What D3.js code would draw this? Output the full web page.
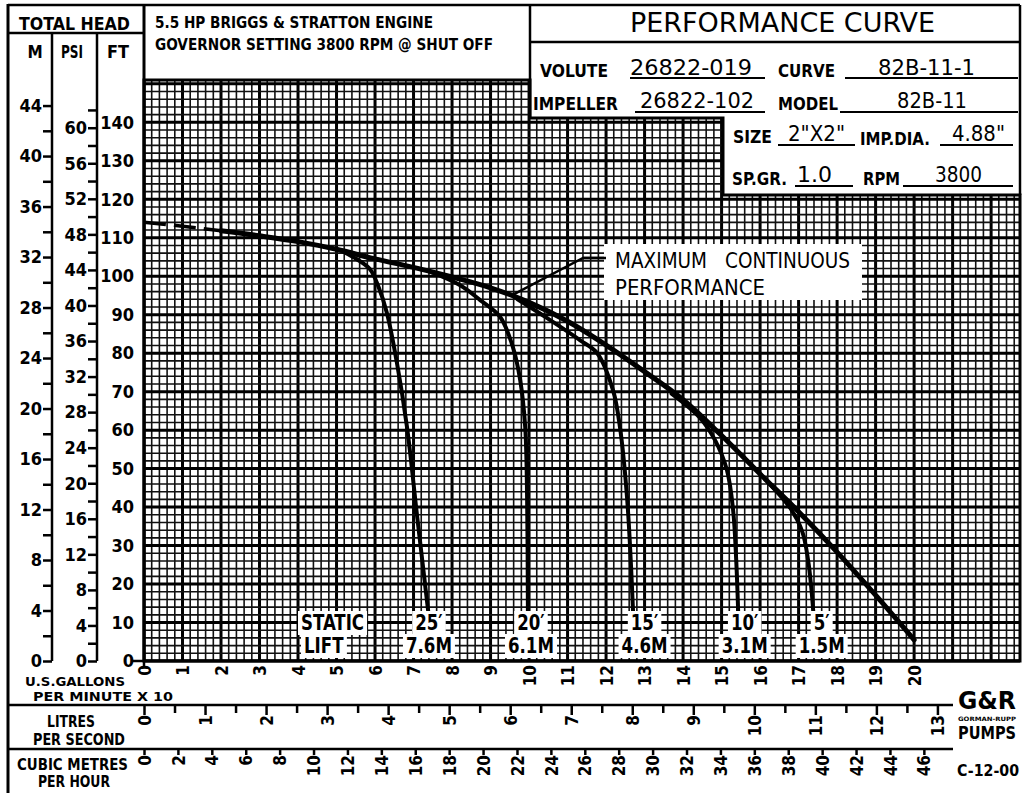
<!DOCTYPE html>
<html><head><meta charset="utf-8">
<script src="https://cdn.jsdelivr.net/npm/d3@7/dist/d3.min.js"></script>
<style>
body{margin:0;background:#fff;}
svg{display:block;background:#fff;}
text{font-family:"DejaVu Sans Condensed","DejaVu Sans",sans-serif;font-stretch:condensed;fill:#000;}
</style></head><body>
<svg id="c" width="1023" height="793"></svg>
<script>
// ---------------- data ----------------
// Maximum continuous performance envelope (GPM, feet of head)
const envGpm = [0, 10, 20, 30, 40, 50, 60, 70, 80, 90, 100, 110, 120, 130, 140, 150, 160, 170, 180, 190, 200];
const envFt  = [114, 113, 111.8, 110.5, 109, 107, 104.5, 102.3, 99.8, 97, 93.2, 88.3, 82.1, 75.2, 67.9, 58.6, 48.6, 38.8, 28.3, 17.1, 5.5];
// static lift curves
const lift25Gpm = [50.9, 55.3, 58.7, 60.8, 63.1, 65.7, 68.3, 70.9, 73.8];
const lift25Ft  = [106.8, 104.4, 101.8, 97.5, 90.4, 77.4, 60.8, 37.9, 13];
const lift20Gpm = [74, 82, 87.3, 92.5, 95.8, 97.7, 99, 99.5, 99.7];
const lift20Ft  = [101.3, 97.7, 93.8, 89.4, 81.6, 73, 60.8, 41.8, 13];
const lift15Gpm = [97, 104.7, 113.2, 117.7, 121.8, 123.6, 125.5, 127];
const lift15Ft  = [94, 89.1, 83.4, 80, 70.4, 60.8, 41.8, 13];
const lift10Gpm = [137, 144.4, 148.3, 151.4, 153, 153.8, 154.3];
const lift10Ft  = [69.5, 63.2, 57.4, 49.6, 39.2, 26.2, 13];
const lift5Gpm  = [162, 168, 171, 172.5, 173.3, 173.8];
const lift5Ft   = [46.5, 39.5, 33.5, 26, 19, 13];
// static lift labels
const liftFeet   = ["25′", "20′", "15′", "10′", "5′"];
const liftMetres = ["7.6M", "6.1M", "4.6M", "3.1M", "1.5M"];
const liftLabelGpm = [74, 100.5, 130, 156, 176];
// axis tick labels
const ftTicks   = [0, 10, 20, 30, 40, 50, 60, 70, 80, 90, 100, 110, 120, 130, 140];
const mTicks    = d3.range(0, 45, 2);    // labels every 4
const psiTicks  = d3.range(0, 63, 2);    // labels every 4
const gpmTicks  = d3.range(0, 21, 1);    // x10 US GPM
const lpsTicks  = d3.range(0, 13.01, 0.5);
const m3hTicks  = d3.range(0, 47, 2);

// ---------------- scales ----------------
const svg = d3.select("#c");
const X0 = 144, X1 = 1020, Y0 = 661, Y1 = 80;
const x = d3.scaleLinear().domain([0, 227.5]).range([X0, X1]);
const y = d3.scaleLinear().domain([0, 151]).range([Y0, Y1]);
const yM = d3.scaleLinear().domain([0, 151 / 3.28084]).range([Y0, Y1]);
const yPsi = d3.scaleLinear().domain([0, 151 / 2.31]).range([Y0, Y1]);
const xLps = d3.scaleLinear().domain([0, 227.5 / 15.8503]).range([X0, X1]);
const xM3h = d3.scaleLinear().domain([0, 227.5 / 4.40287]).range([X0, X1]);

function T(g, s, px, py, size, o = {}) {
  const t = g.append("text").attr("x", px).attr("y", py).text(s)
    .attr("font-size", size).attr("font-weight", o.bold ? "bold" : "normal")
    .attr("text-anchor", o.anchor || "start");
  if (o.w) t.attr("textLength", o.w).attr("lengthAdjust", "spacingAndGlyphs");
  if (o.squeeze) t.attr("textLength", t.node().getComputedTextLength() * o.squeeze).attr("lengthAdjust", "spacingAndGlyphs");
  return t;
}
function L(g, x1, y1, x2, y2, w = 2.5) {
  g.append("line").attr("x1", x1).attr("y1", y1).attr("x2", x2).attr("y2", y2)
    .attr("stroke", "#000").attr("stroke-width", w);
}

// ---------------- grid ----------------
const gridPoly = [[X0, Y1], [530, Y1], [530, 118], [723, 118], [723, 195], [X1, 195], [X1, Y0], [X0, Y0]];
svg.append("clipPath").attr("id", "gclip").append("polygon").attr("points", gridPoly.map(p => p.join(",")).join(" "));
const grid = svg.append("g").attr("clip-path", "url(#gclip)");
const vMinor = d3.range(0, 228, 2), hMinor = d3.range(0, 152, 2);
grid.selectAll(".vm").data(vMinor).join("line")
  .attr("x1", d => x(d)).attr("x2", d => x(d)).attr("y1", Y1).attr("y2", Y0)
  .attr("stroke", d => d % 10 === 0 ? "#000" : "#111").attr("stroke-width", d => d % 10 === 0 ? 3 : 1.6);
grid.selectAll(".hm").data(hMinor).join("line")
  .attr("y1", d => y(d)).attr("y2", d => y(d)).attr("x1", X0).attr("x2", X1)
  .attr("stroke", d => d % 10 === 0 ? "#000" : "#111").attr("stroke-width", d => d % 10 === 0 ? 3 : 1.6);
svg.append("polygon").attr("points", gridPoly.map(p => p.join(",")).join(" "))
  .attr("fill", "none").attr("stroke", "#000").attr("stroke-width", 3);

// ---------------- curves ----------------
const line = d3.line().x(d => x(d[0])).y(d => y(d[1])).curve(d3.curveCatmullRom.alpha(0.5));
const zip = (a, b) => a.map((v, i) => [v, b[i]]);
const env = zip(envGpm, envFt);
const curves = svg.append("g").attr("fill", "none").attr("stroke", "#000").attr("stroke-linecap", "round");
curves.append("path").attr("d", line(env.slice(0, 3))).attr("stroke-width", 3.5).attr("stroke-dasharray", "22 8").attr("stroke-linecap", "butt");
curves.append("path").attr("d", line(env.slice(2))).attr("stroke-width", 5);
[[lift25Gpm, lift25Ft], [lift20Gpm, lift20Ft], [lift15Gpm, lift15Ft], [lift10Gpm, lift10Ft], [lift5Gpm, lift5Ft]]
  .forEach(([a, b]) => curves.append("path").attr("d", line(zip(a, b))).attr("stroke-width", 4));

// annotation
const ann = svg.append("g");
ann.append("path").attr("d", `M${x(95.5)},${y(95)} L583,258 L606,258`).attr("fill", "none").attr("stroke", "#000").attr("stroke-width", 2.5);
ann.append("rect").attr("x", 604).attr("y", 244).attr("width", 258).attr("height", 56).attr("fill", "#fff");
L(ann, 583, 258, 606, 258, 2.5);
T(ann, "MAXIMUM", 615, 268, 22, { w: 92 });
T(ann, "CONTINUOUS", 725, 268, 22, { w: 125 });
T(ann, "PERFORMANCE", 615, 295, 22, { w: 150 });

// static lift labels with white backing
function bgText(g, s, px, py, size, anchor) {
  const gg = g.append("g");
  const r = gg.append("rect").attr("fill", "#fff");
  const t = T(gg, s, px, py, size, { anchor, bold: true, squeeze: 0.84 });
  const bb = t.node().getBBox();
  r.attr("x", bb.x - 3).attr("y", bb.y + 1).attr("width", bb.width + 6).attr("height", bb.height - 1);
}
const lab = svg.append("g");
bgText(lab, "STATIC", 301, 630, 22, "start");
bgText(lab, "LIFT", 304, 653, 22, "start");
liftFeet.forEach((s, i) => bgText(lab, s, x(liftLabelGpm[i]), 630, 22, "middle"));
liftMetres.forEach((s, i) => bgText(lab, s, x(liftLabelGpm[i]), 653, 22, "middle"));
L(svg, X0, Y0, X1, Y0, 3);

// ---------------- frame & header ----------------
const fr = svg.append("g");
L(fr, 8, 4, 8, 793, 3);
L(fr, 8, 5, X1, 5, 2.5);
L(fr, X1, 5, X1, 195, 2.5);
L(fr, 8, 33, X0, 33, 2.5);
L(fr, 52, 33, 52, Y0, 2.5);
L(fr, 97, 33, 97, Y0, 2.5);
L(fr, X0, 5, X0, Y0, 3);
L(fr, 530, 5, 530, 118, 2.5);
L(fr, 530, 42, X1, 42, 2.5);

T(fr, "TOTAL HEAD", 19, 30, 18, { bold: true, w: 111 });
T(fr, "M", 35, 58, 17, { bold: true, anchor: "middle" });
T(fr, "PSI", 72, 58, 17, { bold: true, anchor: "middle", w: 22 });
T(fr, "FT", 118, 58, 17, { bold: true, anchor: "middle", w: 22 });
T(fr, "5.5 HP BRIGGS & STRATTON ENGINE", 155, 28, 15, { bold: true, w: 278 });
T(fr, "GOVERNOR SETTING 3800 RPM @ SHUT OFF", 155, 50, 15, { bold: true, w: 338 });

T(fr, "PERFORMANCE  CURVE", 630, 32, 27, { w: 305 });
T(fr, "VOLUTE", 540, 77, 18, { bold: true, w: 68 });
T(fr, "26822-019", 630, 75, 21, { w: 122 });
L(fr, 630, 78, 765, 78, 1.8);
T(fr, "CURVE", 778, 77, 18, { bold: true, w: 57 });
T(fr, "82B-11-1", 878, 75, 21, { w: 97 });
L(fr, 845, 78, 1018, 78, 1.8);
T(fr, "IMPELLER", 533, 110, 18, { bold: true, w: 85 });
T(fr, "26822-102", 640, 108, 21, { w: 114 });
L(fr, 635, 112, 765, 112, 1.8);
T(fr, "MODEL", 778, 110, 18, { bold: true, w: 60 });
T(fr, "82B-11", 897, 108, 21, { w: 70 });
L(fr, 840, 112, 1018, 112, 1.8);
T(fr, "SIZE", 733, 143, 18, { bold: true, w: 39 });
T(fr, "2\"X2\"", 788, 141, 21, { w: 57 });
L(fr, 778, 145, 855, 145, 1.8);
T(fr, "IMP.DIA.", 860, 145, 18, { bold: true, w: 70 });
T(fr, "4.88\"", 952, 141, 21, { w: 53 });
L(fr, 940, 145, 1013, 145, 1.8);
T(fr, "SP.GR.", 732, 185, 18, { bold: true, w: 55 });
T(fr, "1.0", 797, 182, 21, { w: 35 });
L(fr, 795, 186, 853, 186, 1.8);
T(fr, "RPM", 863, 185, 18, { bold: true, w: 37 });
T(fr, "3800", 935, 182, 21, { w: 47 });
L(fr, 903, 186, 1013, 186, 1.8);

// ---------------- vertical axes ----------------
function styleAxis(g) {
  g.select(".domain").remove();
  g.selectAll(".tick line").attr("stroke", "#000").attr("stroke-width", 2.5);
  g.selectAll(".tick text").attr("font-size", 18).attr("font-weight", "bold").attr("font-family", null);
}
svg.append("g").attr("transform", "translate(52,0)")
  .call(d3.axisLeft(yM).tickValues(mTicks).tickSize(9).tickPadding(1).tickFormat(d => d % 4 === 0 ? d : ""))
  .call(styleAxis);
svg.append("g").attr("transform", "translate(97,0)")
  .call(d3.axisLeft(yPsi).tickValues(psiTicks).tickSize(9).tickPadding(1).tickFormat(d => d % 4 === 0 ? d : ""))
  .call(styleAxis);
svg.append("g").attr("transform", `translate(${X0},0)`)
  .call(d3.axisLeft(y).tickValues(ftTicks).tickSize(0).tickPadding(10))
  .call(styleAxis);
L(svg, 132, Y0, X0, Y0, 2.5);

// ---------------- bottom axes ----------------
function rotLabels(g, off) {
  g.selectAll(".tick text").attr("transform", "rotate(-90)").attr("x", -off).attr("y", 0)
    .attr("dy", "0.36em").attr("text-anchor", "end").attr("font-size", 17).attr("font-weight", "bold").attr("font-family", null);
}
const gGpm = svg.append("g").attr("transform", `translate(0,${Y0})`)
  .call(d3.axisBottom(x).tickValues(gpmTicks.map(d => d * 10)).tickSize(0).tickFormat(d => d / 10));
gGpm.select(".domain").remove();
rotLabels(gGpm, 4);
L(svg, X0, Y0, X0, Y0 + 5, 2.5);

L(svg, 8, 705, 953, 705, 2.5);
const gL = svg.append("g").attr("transform", "translate(0,705)")
  .call(d3.axisBottom(xLps).tickValues(lpsTicks).tickSize(9).tickFormat(d => Number.isInteger(d) ? d : ""));
gL.select(".domain").remove();
gL.selectAll(".tick line").attr("stroke", "#000").attr("stroke-width", 2.5).attr("y2", d => Number.isInteger(d) ? 10 : 8);
rotLabels(gL, 10);

L(svg, 8, 749, 953, 749, 2.5);
const gC = svg.append("g").attr("transform", "translate(0,749)")
  .call(d3.axisBottom(xM3h).tickValues(m3hTicks).tickSize(6));
gC.select(".domain").remove();
gC.selectAll(".tick line").attr("stroke", "#000").attr("stroke-width", 2.5);
rotLabels(gC, 6);

const bl = svg.append("g");
T(bl, "U.S.GALLONS", 25, 686, 13, { bold: true, w: 100 });
T(bl, "PER  MINUTE  X 10", 33, 701, 13, { bold: true, w: 140 });
T(bl, "LITRES", 71, 727, 16, { bold: true, anchor: "middle", w: 48 });
T(bl, "PER  SECOND", 33, 745, 16, { bold: true, w: 92 });
T(bl, "CUBIC  METRES", 17, 770, 16, { bold: true, w: 111 });
T(bl, "PER  HOUR", 38, 787, 16, { bold: true, w: 72 });

// logo
T(bl, "G&R", 958, 709, 24, { bold: true, w: 58 });
T(bl, "GORMAN-RUPP", 958, 721, 6, { bold: true, w: 58 });
T(bl, "PUMPS", 958, 739, 17, { bold: true, w: 58 });
T(bl, "C-12-00", 957, 776, 15, { bold: true, w: 62 });
</script>
</body></html>
